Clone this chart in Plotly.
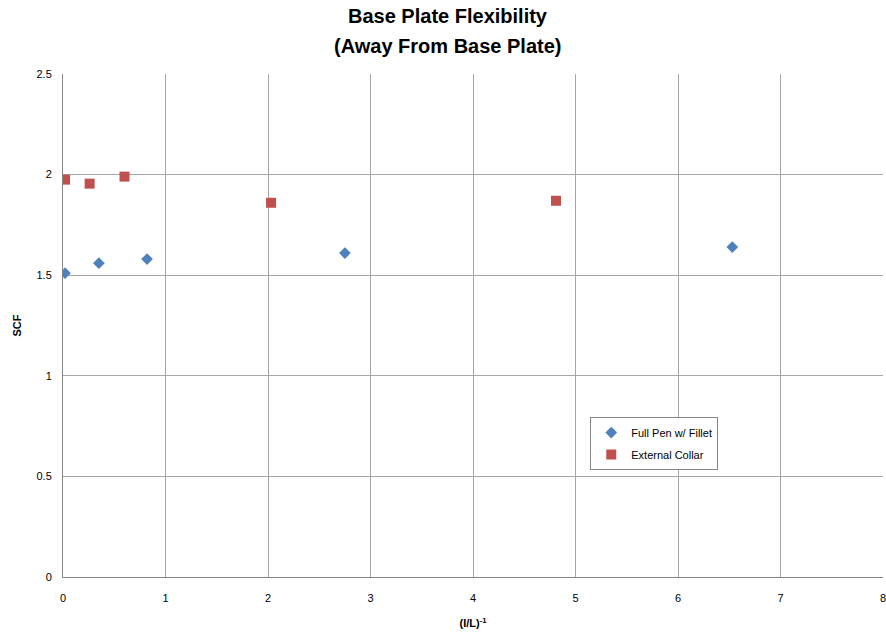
import plotly.graph_objects as go

# Inverse flexibility parameter and stress concentration factors
full_pen_x = [0.02, 0.35, 0.82, 2.75, 6.53]
full_pen_scf = [1.51, 1.56, 1.58, 1.61, 1.64]

collar_x = [0.02, 0.26, 0.60, 2.03, 4.81]
collar_scf = [1.975, 1.955, 1.99, 1.86, 1.87]

x_ticks = [0, 1, 2, 3, 4, 5, 6, 7, 8]
y_ticks = [0, 0.5, 1, 1.5, 2, 2.5]
y_tick_text = ["0", "0.5", "1", "1.5", "2", "2.5"]

title_lines = ["Base Plate Flexibility", "(Away From Base Plate)"]

font_family = "Liberation Sans, Arial"

fig = go.Figure()
fig.add_trace(go.Scatter(
    x=full_pen_x, y=full_pen_scf, mode="markers", name="Full Pen w/ Fillet",
    legendgroup="a",
    marker=dict(symbol="diamond", size=9, color="#4F81BD"),
))
fig.add_trace(go.Scatter(
    x=collar_x, y=collar_scf, mode="markers", name="External Collar",
    legendgroup="b",
    marker=dict(symbol="square", size=10, color="#C0504D"),
))

# Two-line bold chart title
for i, line in enumerate(title_lines):
    fig.add_annotation(
        text=f"<b>{line}</b>", xref="paper", yref="paper",
        x=0.47, y=1 + (58 - 30 * i) / 503, xanchor="center", yanchor="middle",
        showarrow=False, font=dict(size=20, family=font_family),
    )

# Last x tick label sits on the right edge of the plot
fig.add_annotation(
    text="8", xref="x", yref="paper", x=8, y=-21 / 503, xanchor="center",
    yanchor="middle", showarrow=False, font=dict(size=11),
)

fig.update_layout(
    width=886, height=635,
    margin=dict(l=63, r=3, t=74, b=58),
    paper_bgcolor="white", plot_bgcolor="white",
    font=dict(family=font_family, size=11, color="black"),
    xaxis=dict(
        range=[0, 8], tickvals=x_ticks, showgrid=True, gridcolor="#a6a6a6", gridwidth=1,
        zeroline=False, showline=True, linecolor="#868686",
        ticks="outside", ticklen=11, tickcolor="rgba(0,0,0,0)",
        title=dict(text="<b>(I/L)<sup>-1</sup></b>", font=dict(size=11), standoff=16),
        tickfont=dict(size=11),
    ),
    yaxis=dict(
        range=[0, 2.5], tickvals=y_ticks, ticktext=y_tick_text, showgrid=True,
        gridcolor="#a6a6a6", gridwidth=1, zeroline=False, showline=True,
        linecolor="#868686", ticks="outside", ticklen=8, tickcolor="rgba(0,0,0,0)",
        title=dict(text="<b>SCF</b>", font=dict(size=11), standoff=12),
        tickfont=dict(size=11),
    ),
    legend=dict(
        x=0.643, y=0.318, xanchor="left", yanchor="top",
        bordercolor="#868686", borderwidth=1, bgcolor="white",
        font=dict(size=11), itemwidth=30, traceorder="grouped", tracegroupgap=3,
    ),
    showlegend=True,
)

fig.write_html("out.html")
